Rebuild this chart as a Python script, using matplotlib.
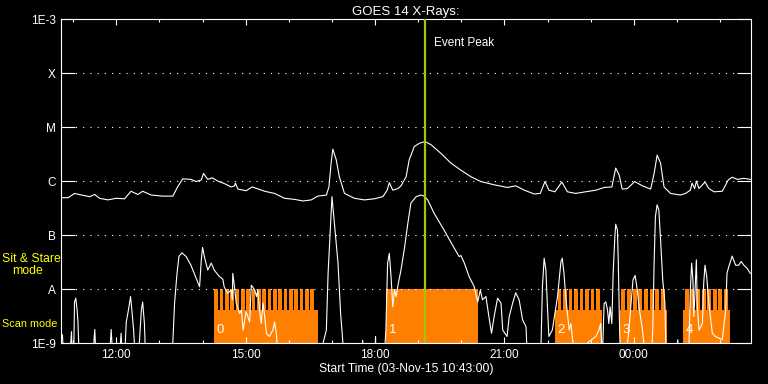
import numpy as np
import matplotlib
matplotlib.use("Agg")
import matplotlib.pyplot as plt
from matplotlib.ticker import FixedLocator, FuncFormatter

# time axis in hours after 00:00 on 03-Nov-15 (values > 24 are the next day)
t_start = 10 + 43 / 60.0
t_end = t_start + 16.0
event_peak = 19.16

# GOES long channel (1-8 A), log10 flux
long_t = [10.75, 10.88, 11.03, 11.19, 11.38, 11.50, 11.61, 11.80, 12.00, 12.19,
          12.34, 12.50, 12.61, 12.81, 13.08, 13.31, 13.42, 13.54, 13.73, 13.85,
          13.97, 14.02, 14.12, 14.22, 14.35, 14.54, 14.66, 14.74, 14.76, 14.82,
          15.01, 15.15, 15.44, 15.67, 15.90, 16.13, 16.33, 16.52, 16.67, 16.87,
          16.93, 16.98, 17.02, 17.10, 17.17, 17.29, 17.52, 17.75, 17.98, 18.18,
          18.28, 18.33, 18.41, 18.53, 18.60, 18.72, 18.79, 18.91, 19.03, 19.16,
          19.30, 19.53, 19.76, 19.99, 20.22, 20.45, 20.76, 21.07, 21.26, 21.46,
          21.69, 21.83, 21.94, 22.03, 22.17, 22.33, 22.46, 22.65, 22.88, 23.12,
          23.31, 23.49, 23.58, 23.66, 23.73, 23.85, 24.02, 24.20, 24.39, 24.47,
          24.54, 24.62, 24.70, 24.85, 25.08, 25.20, 25.31, 25.35, 25.41, 25.45,
          25.51, 25.65, 25.74, 25.86, 26.05, 26.19, 26.28, 26.40, 26.55, 26.70]
long_logf = [-6.31, -6.31, -6.23, -6.26, -6.29, -6.25, -6.32, -6.35, -6.32, -6.33,
             -6.19, -6.25, -6.19, -6.26, -6.28, -6.28, -6.11, -5.96, -5.97, -6.01,
             -5.98, -5.86, -5.97, -5.94, -6.00, -6.06, -6.11, -6.09, -6.04, -6.15,
             -6.18, -6.11, -6.19, -6.23, -6.32, -6.34, -6.37, -6.35, -6.28, -6.26,
             -6.11, -5.67, -5.41, -5.61, -5.92, -6.23, -6.32, -6.35, -6.33, -6.29,
             -6.17, -6.03, -6.17, -6.14, -6.09, -5.92, -5.61, -5.36, -5.30, -5.27,
             -5.33, -5.49, -5.67, -5.80, -5.92, -6.01, -6.07, -6.12, -6.09, -6.17,
             -6.24, -6.23, -6.01, -6.17, -6.20, -6.02, -6.20, -6.23, -6.20, -6.17,
             -6.12, -6.11, -5.76, -5.89, -6.15, -6.14, -6.01, -6.09, -6.15, -5.86,
             -5.52, -5.67, -6.11, -6.23, -6.26, -6.23, -6.17, -6.04, -6.14, -6.00,
             -6.14, -6.02, -6.14, -6.20, -6.19, -5.98, -5.93, -5.97, -5.95, -5.97]

# GOES short channel (0.5-4 A), log10 flux (-9.3 = below the plot floor)
short_t = [10.75, 10.78, 10.92, 10.96, 10.98, 11.01, 11.03, 11.06, 11.09, 11.11,
           11.14, 11.45, 11.50, 11.53, 11.84, 11.88, 11.92, 12.07, 12.11, 12.14,
           12.19, 12.23, 12.28, 12.33, 12.36, 12.40, 12.44, 12.51, 12.58, 12.61,
           12.65, 12.68, 13.25, 13.31, 13.35, 13.40, 13.45, 13.52, 13.62, 13.73,
           13.85, 13.93, 13.97, 14.00, 14.04, 14.12, 14.20, 14.27, 14.39, 14.47,
           14.50, 14.58, 14.66, 14.69, 14.70, 14.74, 14.78, 14.86, 14.90, 14.94,
           15.01, 15.09, 15.13, 15.21, 15.25, 15.28, 15.32, 15.36, 15.40, 15.44,
           15.48, 15.55, 15.63, 15.67, 15.71, 15.75, 16.70, 16.87, 16.91, 16.96,
           17.00, 17.07, 17.14, 17.20, 17.24, 17.28, 17.70, 17.71, 17.72, 18.00,
           18.01, 18.02, 18.21, 18.25, 18.29, 18.33, 18.37, 18.41, 18.45, 18.49,
           18.53, 18.60, 18.68, 18.76, 18.83, 18.95, 19.06, 19.14, 19.22, 19.37,
           19.60, 19.84, 19.95, 19.99, 20.07, 20.18, 20.30, 20.38, 20.44, 20.49,
           20.57, 20.65, 20.70, 20.76, 20.84, 20.92, 20.96, 21.06, 21.11, 21.19,
           21.26, 21.34, 21.42, 21.50, 21.53, 21.84, 21.88, 21.92, 21.96, 22.00,
           22.03, 22.11, 22.23, 22.31, 22.34, 22.38, 22.42, 22.50, 22.54, 22.58,
           22.65, 22.95, 23.12, 23.19, 23.23, 23.27, 23.31, 23.35, 23.39, 23.42,
           23.45, 23.49, 23.52, 23.56, 23.58, 23.62, 23.64, 23.67, 23.69, 23.81,
           23.88, 23.93, 23.98, 24.03, 24.08, 24.12, 24.20, 24.27, 24.41, 24.44,
           24.47, 24.50, 24.54, 24.58, 24.62, 24.67, 24.72, 24.75, 24.99, 25.02,
           25.04, 25.27, 25.31, 25.34, 25.37, 25.39, 25.41, 25.45, 25.47, 25.51,
           25.59, 25.62, 25.65, 25.69, 25.74, 25.82, 25.89, 26.05, 26.13, 26.16,
           26.20, 26.28, 26.36, 26.43, 26.49, 26.55, 26.63, 26.70]
short_logf = [-8.85, -9.3, -9.3, -8.79, -9.3, -9.3, -8.24, -8.17, -8.39, -8.61,
              -9.3, -9.3, -8.75, -9.3, -9.3, -8.75, -9.3, -9.3, -8.82, -9.3,
              -9.3, -8.61, -8.39, -8.14, -8.39, -8.76, -9.3, -9.3, -8.39, -8.24,
              -8.63, -9.3, -9.3, -8.98, -8.27, -7.77, -7.40, -7.33, -7.40, -7.56,
              -7.80, -7.96, -7.46, -7.23, -7.40, -7.65, -7.52, -7.65, -7.77, -7.82,
              -7.96, -8.08, -8.02, -8.20, -7.71, -7.96, -8.26, -8.45, -8.39, -8.76,
              -8.42, -8.61, -7.93, -8.02, -8.14, -8.02, -8.39, -8.64, -8.26, -8.51,
              -8.82, -8.88, -8.76, -8.61, -8.82, -9.3, -9.3, -8.76, -7.71, -6.91,
              -6.29, -6.91, -7.52, -8.45, -8.85, -9.3, -9.3, -8.95, -9.3, -9.3,
              -8.88, -9.3, -9.3, -8.76, -7.52, -7.34, -7.77, -8.33, -8.02, -8.14,
              -7.93, -7.65, -7.25, -6.78, -6.41, -6.29, -6.26, -6.28, -6.35, -6.60,
              -6.91, -7.25, -7.40, -7.38, -7.52, -7.77, -7.96, -8.24, -8.02, -8.20,
              -8.14, -8.57, -8.82, -8.51, -8.17, -8.26, -8.76, -8.88, -8.51, -8.26,
              -8.07, -8.20, -8.57, -8.70, -9.3, -9.3, -7.96, -7.43, -7.65, -8.39,
              -8.88, -8.76, -8.14, -7.49, -7.43, -7.71, -8.14, -8.76, -8.64, -8.94,
              -9.3, -8.98, -8.88, -8.76, -8.64, -9.3, -8.27, -8.24, -8.39, -8.64,
              -8.33, -8.64, -7.71, -7.03, -6.80, -6.91, -7.52, -8.76, -9.3, -9.3,
              -8.81, -8.33, -7.83, -7.75, -8.02, -8.33, -8.76, -9.3, -9.3, -8.70,
              -7.52, -6.66, -6.44, -6.54, -7.09, -7.83, -8.27, -9.3, -9.3, -8.94,
              -9.3, -9.3, -8.02, -7.52, -7.83, -8.51, -8.20, -7.46, -8.27, -8.76,
              -8.64, -7.89, -7.56, -7.77, -8.27, -8.82, -8.88, -8.94, -8.39, -7.71,
              -7.59, -7.39, -7.56, -7.56, -7.49, -7.56, -7.62, -7.71]

# observing blocks: start, end (hours), mode, number of raster steps
block_start = [14.27, 18.26, 22.17, 23.67, 25.14]
block_end = [16.67, 20.38, 23.25, 24.76, 26.22]
block_mode = ["scan", "sit", "scan", "scan", "scan"]
raster_start = [14.27, None, 22.23, 23.71, 25.18]
raster_end = [16.62, None, 23.25, 24.76, 26.22]
raster_steps = [19, 0, 8, 8, 8]
block_names = ["0", "1", "2", "3", "4"]

sit_level = 1e-8
scan_level = 10 ** -8.39
floor = 1e-10

orange = "#ff8000"
green = "#a0c800"
font = ["Liberation Sans", "DejaVu Sans"]
plt.rcParams["font.family"] = font

fig = plt.figure(figsize=(7.68, 3.84), dpi=100, facecolor="black")
ax = fig.add_axes([61 / 768, 1 - 343 / 384, 690 / 768, 324 / 384], facecolor="black")

# orange mode blocks
for i in range(len(block_start)):
    if block_mode[i] == "sit":
        ax.fill_between([block_start[i], block_end[i]], floor, sit_level,
                        color=orange, lw=0, zorder=1)
    else:
        ax.fill_between([block_start[i], block_end[i]], floor, scan_level,
                        color=orange, lw=0, zorder=1)
        step = (raster_end[i] - raster_start[i]) / raster_steps[i]
        lefts = raster_start[i] + step * np.arange(raster_steps[i])
        ax.bar(lefts, sit_level - floor, width=step * 0.72, bottom=floor,
               align="edge", color=orange, lw=0, zorder=1)
    ax.text(block_start[i] + 0.06, 10 ** -8.76, block_names[i], color="white",
            fontsize=9.5, va="center", ha="left", zorder=4)

# GOES curves
ax.plot(long_t, 10 ** np.array(long_logf), color="white", lw=0.8, zorder=3)
ax.plot(short_t, 10 ** np.array(short_logf), color="white", lw=0.8, zorder=3)

# event peak marker
ax.axvline(event_peak, color=green, lw=1.6, zorder=5)
ax.text(event_peak + 0.21, 10 ** -3.45, "Event Peak", color="white",
        fontsize=8.5, va="center", ha="left")

# axes setup
ax.set_yscale("log")
ax.set_ylim(1e-9, 1e-3)
ax.set_xlim(t_start, t_end)
ax.yaxis.set_major_locator(FixedLocator([1e-9, 1e-8, 1e-7, 1e-6, 1e-5, 1e-4, 1e-3]))
ax.yaxis.set_minor_locator(FixedLocator([]))
ax.set_yticklabels(["1E-9", "A", "B", "C", "M", "X", "1E-3"])
ax.xaxis.set_major_locator(FixedLocator([12, 15, 18, 21, 24]))
ax.xaxis.set_minor_locator(FixedLocator(np.arange(11, 27)))
ax.xaxis.set_major_formatter(FuncFormatter(lambda v, p: "%02d:00" % (int(round(v)) % 24)))

ax.tick_params(axis="y", which="major", direction="in", length=10, width=0.8,
               colors="white", labelsize=8.5, left=True, right=True, pad=4)
ax.tick_params(axis="x", which="major", direction="in", length=4.5, width=0.8,
               colors="white", labelsize=8.5, top=True, bottom=True, pad=4)
ax.tick_params(axis="x", which="minor", direction="in", length=2.2, width=0.8,
               colors="white", top=True, bottom=True)
for s in ax.spines.values():
    s.set_color("white")
    s.set_linewidth(0.8)

ax.grid(axis="y", color="white", lw=0.8, linestyle=(0, (1, 5.5)))

ax.set_title("GOES 14 X-Rays:", color="white", fontsize=9.5, pad=3)
ax.set_xlabel("Start Time (03-Nov-15 10:43:00)", color="white", fontsize=8.7, labelpad=2)

# mode labels left of the axis
fig.text(2 / 768, 1 - 259 / 384, "Sit & Stare", color="yellow", fontsize=8.8, va="center")
fig.text(12 / 768, 1 - 271 / 384, "mode", color="yellow", fontsize=8.8, va="center")
fig.text(2 / 768, 1 - 324 / 384, "Scan mode", color="yellow", fontsize=7.8, va="center")

fig.savefig("out.png", dpi=100, facecolor="black")
